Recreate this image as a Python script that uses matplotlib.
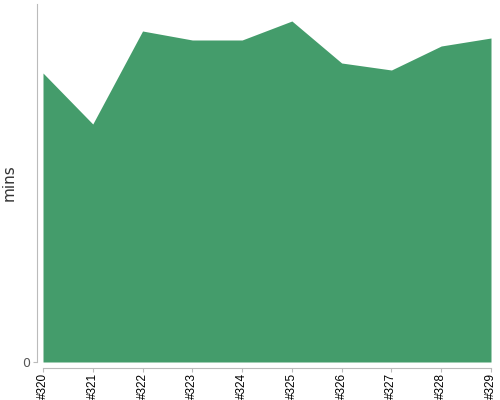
import matplotlib
matplotlib.use("Agg")
import matplotlib.pyplot as plt

builds = ["#320", "#321", "#322", "#323", "#324", "#325", "#326", "#327", "#328", "#329"]
mins = [28.9, 23.8, 33.1, 32.2, 32.2, 34.1, 29.9, 29.2, 31.6, 32.4]

fig = plt.figure(figsize=(5, 4), dpi=100)
ax = fig.add_axes([0.086, 0.095, 0.896, 0.895])

x = list(range(len(builds)))
ax.fill_between(x, 0, mins, color="#449c6b", linewidth=0)

ax.set_xlim(0, len(builds) - 1)
ax.set_ylim(0, 35.8)
ax.set_xticks(x, builds)
ax.set_yticks([0], ["0"])

for side in ["top", "right"]:
    ax.spines[side].set_visible(False)
for side in ["left", "bottom"]:
    ax.spines[side].set_position(("outward", 4))
    ax.spines[side].set_color("#bbbbbb")
ax.tick_params(axis="both", colors="#bbbbbb", length=3, width=0.8)
ax.tick_params(axis="x", labelrotation=90, labelcolor="black", labelsize=8.5, pad=1)
ax.tick_params(axis="y", labelcolor="#555555", labelsize=9, pad=2)
for lbl in ax.get_xticklabels():
    lbl.set_fontfamily("Liberation Sans")
ax.set_ylabel("mins", fontsize=11, color="#333333", labelpad=4)

fig.savefig("out.png", dpi=100)
